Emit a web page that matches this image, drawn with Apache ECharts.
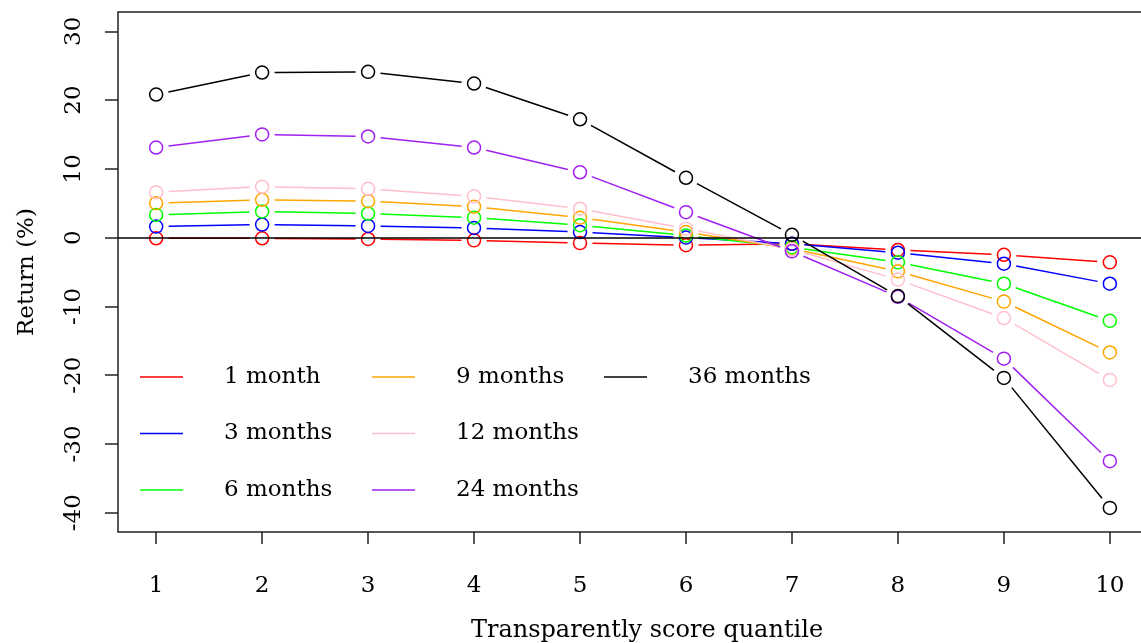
<!DOCTYPE html>
<html>
<head>
<meta charset="utf-8">
<script src="https://cdn.jsdelivr.net/npm/echarts@6/dist/echarts.min.js"></script>
<style>html,body{margin:0;padding:0;background:#fff;}#c{width:1141px;height:643px;}</style>
</head>
<body>
<div id="c"></div>
<script>
// ---- data ----
var quantiles = [1, 2, 3, 4, 5, 6, 7, 8, 9, 10];
var yTicks = [-40, -30, -20, -10, 0, 10, 20, 30];
var seriesNames = ['1 month', '3 months', '6 months', '9 months', '12 months', '24 months', '36 months'];
var m1  = [-0.1, -0.1, -0.2, -0.4, -0.8, -1.1, -0.9, -1.8, -2.5, -3.6];
var m3  = [1.6, 1.9, 1.7, 1.4, 0.8, 0.0, -0.9, -2.2, -3.8, -6.7];
var m6  = [3.3, 3.8, 3.5, 2.9, 1.8, 0.3, -1.4, -3.6, -6.7, -12.1];
var m9  = [5.0, 5.5, 5.3, 4.5, 2.9, 0.8, -1.6, -4.9, -9.3, -16.7];
var m12 = [6.6, 7.4, 7.1, 6.0, 4.2, 1.3, -1.7, -6.1, -11.7, -20.7];
var m24 = [13.1, 15.0, 14.7, 13.1, 9.5, 3.7, -2.0, -8.6, -17.6, -32.5];
var m36 = [20.8, 24.0, 24.1, 22.4, 17.2, 8.7, 0.4, -8.5, -20.4, -39.3];
var allValues = [m1, m3, m6, m9, m12, m24, m36];
var colors = ['#ff0000', '#0000ff', '#00ff00', '#ffa500', '#ffc0cb', '#a020f0', '#000000'];

var FONT = 'DejaVu Serif';
var GAP = 12.5;

function segments(vals) {
  var out = [];
  for (var i = 0; i < quantiles.length - 1; i++) {
    out.push([quantiles[i], vals[i], quantiles[i + 1], vals[i + 1]]);
  }
  return out;
}
function points(vals) {
  return quantiles.map(function (q, i) { return [q, vals[i]]; });
}

var series = [];
seriesNames.forEach(function (name, k) {
  var col = colors[k];
  series.push({
    type: 'custom',
    name: name,
    coordinateSystem: 'cartesian2d',
    itemStyle: { color: col },
    encode: { x: [0, 2], y: [1, 3] },
    clip: true,
    silent: true,
    data: segments(allValues[k]),
    renderItem: function (params, api) {
      var p1 = api.coord([api.value(0), api.value(1)]);
      var p2 = api.coord([api.value(2), api.value(3)]);
      var dx = p2[0] - p1[0], dy = p2[1] - p1[1];
      var len = Math.sqrt(dx * dx + dy * dy);
      if (len <= 2 * GAP) return null;
      var ux = dx / len, uy = dy / len;
      return {
        type: 'line',
        shape: { x1: p1[0] + ux * GAP, y1: p1[1] + uy * GAP, x2: p2[0] - ux * GAP, y2: p2[1] - uy * GAP },
        style: { stroke: col, lineWidth: 1.5 }
      };
    }
  });
});
seriesNames.forEach(function (name, k) {
  var col = colors[k];
  var s = {
    type: 'scatter',
    name: name,
    symbol: 'circle',
    symbolSize: 13,
    silent: true,
    itemStyle: { color: 'rgba(0,0,0,0)', borderColor: col, borderWidth: 1.5, opacity: 1 },
    data: points(allValues[k])
  };
  if (k === 0) {
    s.markLine = {
      silent: true,
      symbol: ['none', 'none'],
      label: { show: false },
      lineStyle: { color: '#000', width: 1.5, type: 'solid' },
      data: [{ yAxis: 0 }]
    };
  }
  series.push(s);
});

function legendData(idx) {
  return idx.map(function (k) {
    return { name: seriesNames[k], icon: 'rect', itemStyle: { color: colors[k] } };
  });
}
function legendAt(left, idx) {
  return {
    orient: 'vertical',
    left: left,
    top: 364,
    padding: 0,
    itemWidth: 43,
    itemHeight: 1.5,
    itemGap: 30.5,
    selectedMode: false,
    data: legendData(idx),
    textStyle: { fontFamily: FONT, fontSize: 23, color: '#000', lineHeight: 26, padding: [0, 0, 0, 36] }
  };
}

var chart = echarts.init(document.getElementById('c'), null, { renderer: 'canvas' });
chart.setOption({
  animation: false,
  backgroundColor: '#fff',
  grid: { left: 118, top: 12, width: 1030, height: 520, outerBoundsMode: 'none', containLabel: false, show: true, borderColor: '#222', borderWidth: 1.5, backgroundColor: 'transparent' },
  legend: [legendAt(140, [0, 1, 2]), legendAt(372, [3, 4, 5]), legendAt(604, [6])],
  xAxis: {
    type: 'value',
    min: 0.64,
    max: 10.36,
    name: 'Transparently score quantile',
    nameLocation: 'middle',
    nameGap: 87,
    nameTextStyle: { fontFamily: FONT, fontSize: 24, color: '#000', padding: [0, 0, 0, 28] },
    axisLine: { show: false, onZero: false },
    splitLine: { show: false },
    axisTick: { show: true, length: 12, lineStyle: { color: '#222', width: 1.5 }, customValues: quantiles },
    axisLabel: { fontFamily: FONT, fontSize: 23, color: '#000', margin: 43, customValues: quantiles }
  },
  yAxis: {
    type: 'value',
    min: -42.8,
    max: 32.8,
    name: 'Return (%)',
    nameLocation: 'middle',
    nameRotate: 90,
    nameGap: 79,
    nameTextStyle: { fontFamily: FONT, fontSize: 23, color: '#000' },
    axisLine: { show: false, onZero: false },
    splitLine: { show: false },
    axisTick: { show: true, length: 13, lineStyle: { color: '#222', width: 1.5 }, customValues: yTicks },
    axisLabel: { fontFamily: FONT, fontSize: 23, color: '#000', margin: 32, rotate: 90, customValues: yTicks }
  },
  series: series
});
</script>
</body>
</html>
